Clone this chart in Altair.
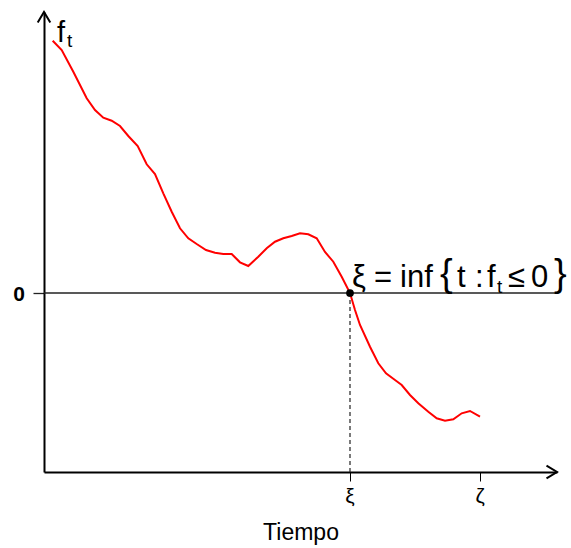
import altair as alt
import pandas as pd

# ---- data ----
t_vals = [0.87, 1.77, 2.93, 4.27, 5.10, 5.93, 6.77, 7.60, 8.43, 9.37, 10.27, 11.10,
          11.93, 12.77, 13.60, 14.43, 15.27, 16.20, 17.10, 17.93, 18.77, 19.60, 20.43,
          21.43, 22.27, 23.10, 23.93, 24.77, 25.60, 26.43, 27.27, 28.10, 28.93, 29.77,
          30.60, 31.10, 31.60, 32.60, 33.43, 34.20, 35.10, 35.77, 36.60, 37.43, 38.43,
          39.27, 40.10, 40.93, 41.77, 42.60, 43.60]
f_vals = [25.23, 24.30, 22.13, 19.47, 18.30, 17.53, 17.23, 16.70, 15.70, 14.70, 12.87, 11.90,
          9.97, 8.13, 6.47, 5.47, 4.90, 4.30, 4.03, 3.90, 3.90, 3.07, 2.70,
          3.63, 4.47, 5.13, 5.47, 5.70, 5.97, 5.87, 5.47, 4.10, 3.13, 1.63,
          0.00, -1.70, -3.20, -5.37, -7.03, -8.03, -8.70, -9.20, -10.20, -11.03, -11.87,
          -12.53, -12.77, -12.63, -12.03, -11.80, -12.37]
xi_t = 30.6      # first time f_t <= 0
zeta_t = 43.6    # end time
tick_values = [xi_t, zeta_t]
tick_labels = ["ξ", "ζ"]
y_tick_values = [0.0]
y_tick_labels = ["0"]
x_min, x_max = 0.0, 51.3
y_min, y_max = -17.9, 28.1

FONT = "Liberation Sans"

curve = pd.DataFrame({"t": t_vals, "f": f_vals})

xs = alt.Scale(domain=[x_min, x_max], nice=False, zero=False)
ys = alt.Scale(domain=[y_min, y_max], nice=False, zero=False)

x_axis = alt.Axis(values=tick_values, labels=False, grid=False,
                  domainColor="black", domainWidth=2, tickColor="black", tickWidth=1,
                  tickSize=9, title="Tiempo", titleFont=FONT, titleFontSize=23,
                  titleFontWeight="normal", titleColor="black", titlePadding=40)
y_axis = alt.Axis(values=y_tick_values, labels=False, grid=False, domainColor="black",
                  domainWidth=2, tickColor="#222", tickWidth=1.3, tickSize=11, title=None)


def X(field="t"):
    return alt.X(field + ":Q", scale=xs, axis=x_axis)


def Y(field="f"):
    return alt.Y(field + ":Q", scale=ys, axis=y_axis)


line = alt.Chart(curve).mark_line(color="#ff0000", strokeWidth=2).encode(x=X(), y=Y())

zero_df = pd.DataFrame({"t": [x_min], "t2": [x_max], "f": [0.0]})
zero_line = alt.Chart(zero_df).mark_rule(color="#222", strokeWidth=1.3).encode(
    x=X(), x2="t2:Q", y=Y())

drop_df = pd.DataFrame({"t": [xi_t], "f": [0.0], "f2": [y_min]})
drop = alt.Chart(drop_df).mark_rule(color="#222", strokeWidth=1.2, strokeDash=[4, 3]).encode(
    x=X(), y=Y(), y2="f2:Q")

dot_df = pd.DataFrame({"t": [xi_t], "f": [0.0]})
dot = alt.Chart(dot_df).mark_point(filled=True, color="black", size=60, opacity=1).encode(
    x=X(), y=Y())

xarrow_df = pd.DataFrame({"t": [x_max], "f": [y_min]})
xarrow = alt.Chart(xarrow_df).mark_point(
    shape="M-1,-0.6L0,0L-1,0.6", filled=False, color="black", strokeWidth=2, size=440,
    opacity=1).encode(x=X(), y=Y())
yarrow_df = pd.DataFrame({"t": [x_min], "f": [y_max]})
yarrow = alt.Chart(yarrow_df).mark_point(
    shape="M-0.6,1L0,0L0.6,1", filled=False, color="black", strokeWidth=2, size=440,
    opacity=1).encode(x=X(), y=Y())

# tick labels drawn as text at the tick values
xlab_df = pd.DataFrame({"t": tick_values, "f": [y_min] * len(tick_values), "lab": tick_labels})
xlabels = alt.Chart(xlab_df).mark_text(align="center", baseline="alphabetic", dy=31,
                                        fontSize=21, font=FONT, color="black").encode(
    x=X(), y=Y(), text="lab:N")
ylab_df = pd.DataFrame({"t": [x_min] * len(y_tick_values), "f": y_tick_values, "lab": y_tick_labels})
ylabels = alt.Chart(ylab_df).mark_text(align="right", baseline="alphabetic", dx=-19, dy=8,
                                        fontSize=21, fontWeight="bold", font=FONT,
                                        color="black").encode(x=X(), y=Y(), text="lab:N")

# f_t label near the top of the y axis
ylab_layers = []
for txt, dx, dy, size in [("f", 13, 30, 29), ("t", 23, 35, 19)]:
    ylab_layers.append(
        alt.Chart(yarrow_df).mark_text(text=txt, align="left", baseline="alphabetic",
                                        dx=dx, dy=dy, fontSize=size, font=FONT, color="black")
        .encode(x=X(), y=Y()))

# annotation  ξ = inf{t : f_t ≤ 0}
pieces = [("ξ", 2, -6, 31), ("=", 24, -6, 31), ("inf", 50, -6, 31), ("{", 90, -7, 38),
          ("t", 107, -6, 31), (":", 125, -6, 31), ("f", 137, -6, 31), ("t", 147, 0, 19),
          ("≤", 158, -6, 31), ("0", 181, -6, 31), ("}", 204, -7, 38)]
ann_layers = []
for txt, dx, dy, size in pieces:
    ann_layers.append(
        alt.Chart(dot_df).mark_text(text=txt, align="left", baseline="alphabetic",
                                     dx=dx, dy=dy, fontSize=size, font=FONT, color="black")
        .encode(x=X(), y=Y()))

chart = alt.layer(zero_line, drop, line, dot, xarrow, yarrow, xlabels, ylabels,
                  *ylab_layers, *ann_layers).properties(
    width=513, height=460,
    padding={"left": 44, "top": 12, "right": 14, "bottom": 76},
    autosize=alt.AutoSizeParams(type="none"),
).configure_view(stroke=None)

chart.save("out.html", embed_options={"renderer": "svg", "actions": False})
